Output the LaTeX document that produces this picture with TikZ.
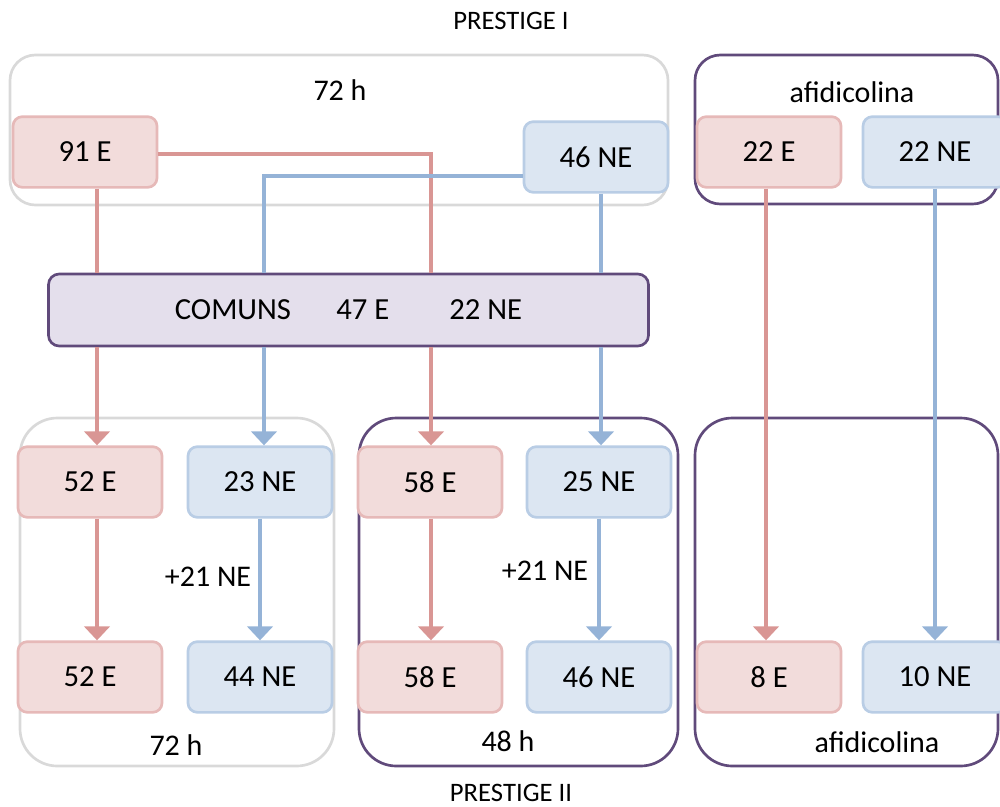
\documentclass[tikz,border=0pt]{standalone}
\usepackage{fontspec}
\setmainfont{Carlito}
\usetikzlibrary{arrows.meta}

\definecolor{efill}{HTML}{F2DCDB}
\definecolor{edraw}{HTML}{E6B9B8}
\definecolor{eline}{HTML}{D99694}
\definecolor{nefill}{HTML}{DCE6F2}
\definecolor{nedraw}{HTML}{B9CDE5}
\definecolor{neline}{HTML}{95B3D7}
\definecolor{cfill}{HTML}{E4DFEC}
\definecolor{pframe}{HTML}{604A7B}
\definecolor{gframe}{HTML}{D9D9D9}

\begin{document}
\begin{tikzpicture}[
  x=0.75pt, y=-0.75pt,
  font=\fontsize{22.5}{27}\selectfont,
  ebox/.style={
    draw=edraw, fill=efill, rounded corners=7pt, line width=2pt,
    minimum width=108pt, minimum height=53pt, inner sep=0pt,
    font=\fontsize{23}{27}\selectfont},
  nebox/.style={ebox, draw=nedraw, fill=nefill},
  combox/.style={
    draw=pframe, fill=cfill, rounded corners=8pt, line width=2pt,
    minimum width=450pt, minimum height=54pt,
    font=\fontsize{23}{27}\selectfont},
  grpgray/.style={draw=gframe, line width=2pt, rounded corners=19pt},
  grppurp/.style={grpgray, draw=pframe},
  eln/.style={draw=eline, line width=2.6pt},
  neln/.style={draw=neline, line width=2.6pt},
  earr/.style={eln, -{Triangle[length=10.5pt,width=19pt]}},
  nearr/.style={neln, -{Triangle[length=10.5pt,width=19pt]}},
  ptitle/.style={font=\fontsize{20}{24}\selectfont}
]
\useasboundingbox (0,0) rectangle (1000,807);
\clip (0,0) rectangle (1000,807);

% group frames
\draw[grpgray] (10,55) rectangle (668,205);
\draw[grppurp] (695,55) rectangle (998,204);
\draw[grpgray, rounded corners=28pt] (20,418) rectangle (334,766);
\draw[grppurp, rounded corners=28pt] (359,418) rectangle (678,766);
\draw[grppurp, rounded corners=28pt] (695,418) rectangle (998,766);

% columns and rows of the connectors
\coordinate (ca) at (97,0);
\coordinate (cb) at (264,0);
\coordinate (cc) at (431,0);
\coordinate (cd) at (601,0);
\coordinate (ce) at (766,0);
\coordinate (ye) at (0,154);
\coordinate (yn) at (0,176);

% labels
\node[ptitle] (tp1) at (511,21) {PRESTIGE I};
\node[ptitle] (tp2) at (511,793) {PRESTIGE II};
\node (h72a) at (340,90) {72 h};
\node (afa) at (852,92) {afidicolina};
\node (p21a) at (208,577) {+21 NE};
\node (p21b) at (545,571) {+21 NE};
\node (h72b) at (176,745) {72 h};
\node (h48) at (508,741) {48 h};
\node (afb) at (877,742) {afidicolina};

% top row
\node[ebox] (e91) at (85,152) {91 E};
\node[nebox] (ne46) at (596,157) {46 NE};
\node[ebox] (e22) at (769,152) {22 E};
\node[nebox] (ne22) at (935,152) {22 NE};

\node[combox] (com) at (348.5,310) {COMUNS\hspace{34pt}47 E\hspace{45pt}22 NE};

% second row
\node[ebox] (e52a) at (90,482) {52 E};
\node[nebox] (ne23) at (260,482) {23 NE};
\node[ebox] (e58a) at (430,482) {58 E};
\node[nebox] (ne25) at (599,482) {25 NE};

% third row
\node[ebox] (e52b) at (90,677) {52 E};
\node[nebox] (ne44) at (260,677) {44 NE};
\node[ebox] (e58b) at (430,677) {58 E};
\node[nebox] (ne46b) at (599,677) {46 NE};
\node[ebox] (e8) at (769,677) {8 E};
\node[nebox] (ne10) at (935,677) {10 NE};

% connectors into COMUNS
\draw[eln] (e91.south -| ca) -- (com.north -| ca);
\draw[eln] (e91.east |- ye) -| (com.north -| cc);
\draw[neln] (ne46.west |- yn) -| (com.north -| cb);
\draw[neln] (ne46.south -| cd) -- (com.north -| cd);

% connectors out of COMUNS
\foreach \c/\t in {ca/e52a, cc/e58a}
  \draw[earr] (com.south -| \c) -- (\t.north -| \c);
\foreach \c/\t in {cb/ne23, cd/ne25}
  \draw[nearr] (com.south -| \c) -- (\t.north -| \c);

% inside the groups
\foreach \a/\b/\c in {e52a/e52b/ca, e58a/e58b/cc, e22/e8/ce}
  \draw[earr] (\a.south -| \c) -- (\b.north -| \c);
\foreach \a/\b in {ne23/ne44, ne25/ne46b, ne22/ne10}
  \draw[nearr] (\a) -- (\b);

\end{tikzpicture}
\end{document}
